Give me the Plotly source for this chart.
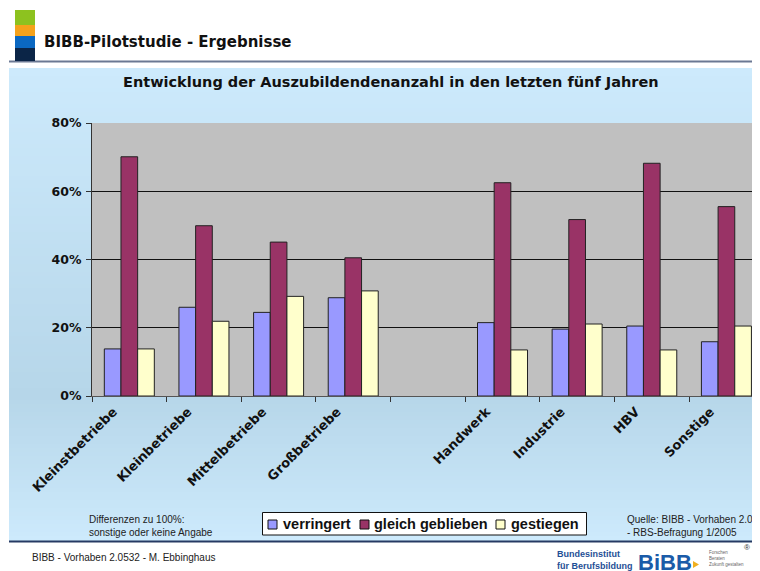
import plotly.graph_objects as go

categories = ["Kleinstbetriebe", "Kleinbetriebe", "Mittelbetriebe", "Großbetriebe", " ",
              "Handwerk", "Industrie", "HBV", "Sonstige"]
verringert = [13.8, 26.0, 24.5, 28.8, None, 21.5, 19.6, 20.5, 15.9]
gleich_geblieben = [70.1, 49.9, 45.1, 40.5, None, 62.5, 51.7, 68.2, 55.5]
gestiegen = [13.8, 21.9, 29.2, 30.8, None, 13.5, 21.1, 13.5, 20.5]
series_names = ["verringert", "gleich geblieben", "gestiegen"]
y_ticks = [0, 20, 40, 60, 80]
y_tick_labels = ["0%", "20%", "40%", "60%", "80%"]

colors = ["#9999FF", "#993366", "#FFFFCC"]
ARIAL = "Liberation Sans, Arial, sans-serif"
VERD = "DejaVu Sans, Verdana, sans-serif"

# page has an 8px body margin; figure pixel = reference pixel - 8
OFF = 8
W, H = 760 - OFF, 571 - OFF
L_REF, T_REF, B_REF, R_REF = 92, 123, 396, 760
PW = R_REF - L_REF
PH = B_REF - T_REF


def X(px):
    return (px - L_REF) / PW


def Y(py):
    return (B_REF - py) / PH


fig = go.Figure()
for name, vals, col in zip(series_names, [verringert, gleich_geblieben, gestiegen], colors):
    fig.add_trace(go.Bar(
        name=name, x=categories, y=vals, showlegend=False,
        marker=dict(color=col, line=dict(color="#222222", width=1)),
        hoverinfo="x+y+name",
    ))

shapes = []


def lerp(c1, c2, t):
    return tuple(int(round(a + (b - a) * t)) for a, b in zip(c1, c2))


top_c = (0xCD, 0xEA, 0xFC)
mid_c = (0xB6, 0xD6, 0xE9)
bot_c = (0xCD, 0xEA, 0xFC)
y_top, y_mid, y_bot = 68, 395, 541
step = 4
py = y_top
while py < y_bot:
    yc = py + step / 2
    if yc <= y_mid:
        c = lerp(top_c, mid_c, (yc - y_top) / (y_mid - y_top))
    else:
        c = lerp(mid_c, bot_c, (yc - y_mid) / (y_bot - y_mid))
    y2 = min(py + step + 0.5, y_bot)
    shapes.append(dict(type="rect", xref="paper", yref="paper", layer="below",
                       x0=X(9), x1=X(770), y0=Y(y2), y1=Y(py),
                       fillcolor="rgb(%d,%d,%d)" % c, line=dict(width=0)))
    py += step

# plot area background
shapes.append(dict(type="rect", xref="paper", yref="paper", layer="below",
                   x0=0, x1=1, y0=0, y1=1, fillcolor="#C0C0C0", line=dict(width=0)))

# header line and footer line
shapes.append(dict(type="line", xref="paper", yref="paper", x0=X(9), x1=X(770),
                   y0=Y(61.5), y1=Y(61.5), line=dict(color="#6B7893", width=2)))
shapes.append(dict(type="line", xref="paper", yref="paper", x0=X(9), x1=X(770),
                   y0=Y(541.5), y1=Y(541.5), line=dict(color="#263A63", width=2)))

# header logo squares
for (y0, y1, col) in [(10, 25, "#8DC21F"), (25, 36, "#F5A21B"), (36, 48, "#0B68C1"), (48, 61, "#0B2547")]:
    shapes.append(dict(type="rect", xref="paper", yref="paper", x0=X(15), x1=X(35),
                       y0=Y(y1), y1=Y(y0), fillcolor=col, line=dict(width=0)))

# small orange triangle in BIBB logo
shapes.append(dict(type="path", xref="paper", yref="paper",
                   path="M %f %f L %f %f L %f %f Z" % (X(693), Y(561), X(693), Y(568), X(699), Y(564.5)),
                   fillcolor="#F0B020", line=dict(width=0)))

# legend box and swatches (built from series names / colors)
shapes.append(dict(type="rect", xref="paper", yref="paper", x0=X(262.5), x1=X(586.5),
                   y0=Y(535), y1=Y(512.5), fillcolor="white", line=dict(color="#111111", width=1)))
legend_swatch_x = [268, 360, 496]
legend_text_x = [281, 372, 509]
for sx, col in zip(legend_swatch_x, colors):
    shapes.append(dict(type="rect", xref="paper", yref="paper", x0=X(sx), x1=X(sx + 9),
                       y0=Y(529), y1=Y(520), fillcolor=col, line=dict(color="#111111", width=1)))

annotations = [
    dict(text="<b>BIBB-Pilotstudie - Ergebnisse</b>", x=X(42), y=Y(42), xanchor="left", yanchor="middle",
         font=dict(size=15, color="#111111", family=VERD)),
    dict(text="<b>Entwicklung der Auszubildendenanzahl in den letzten fünf Jahren</b>", x=X(391), y=Y(82),
         xanchor="center", yanchor="middle", font=dict(size=14.5, color="#111111", family=VERD)),
    dict(text="Differenzen zu 100%:<br>sonstige oder keine Angabe", x=X(87), y=Y(526), xanchor="left",
         yanchor="middle", align="left", font=dict(size=10, color="#222222", family=ARIAL)),
    dict(text="Quelle: BIBB - Vorhaben 2.0.532<br>- RBS-Befragung 1/2005", x=X(625), y=Y(526), xanchor="left",
         yanchor="middle", align="left", font=dict(size=10, color="#222222", family=ARIAL)),
    dict(text="BIBB - Vorhaben 2.0532 - M. Ebbinghaus", x=X(30), y=Y(557), xanchor="left", yanchor="middle",
         font=dict(size=10, color="#222222", family=ARIAL)),
    dict(text="<b>Bundesinstitut<br>für Berufsbildung</b>", x=X(555), y=Y(560), xanchor="left",
         yanchor="middle", align="left", font=dict(size=9, color="#1F4F96", family=ARIAL)),
    dict(text="<b>BiBB</b>", x=X(665), y=Y(562), xanchor="center", yanchor="middle",
         font=dict(size=22, color="#1B5BA8", family=ARIAL)),
    dict(text="Forschen<br>Beraten<br>Zukunft gestalten", x=X(707), y=Y(558), xanchor="left", yanchor="middle",
         align="left", font=dict(size=4.5, color="#666666", family=ARIAL)),
    dict(text="®", x=X(747), y=Y(547), xanchor="center", yanchor="middle",
         font=dict(size=8, color="#333333", family=ARIAL)),
]
for tx, name in zip(legend_text_x, series_names):
    annotations.append(dict(text="<b>%s</b>" % name, x=X(tx), y=Y(524), xanchor="left", yanchor="middle",
                            font=dict(size=14.5, color="#111111", family=ARIAL)))
for a in annotations:
    a.update(xref="paper", yref="paper", showarrow=False)

fig.update_layout(
    width=W, height=H,
    margin=dict(l=L_REF - OFF, r=W - (R_REF - OFF), t=T_REF - OFF, b=H - (B_REF - OFF), pad=0),
    paper_bgcolor="white",
    plot_bgcolor="rgba(0,0,0,0)",
    barmode="group", bargap=0.33, bargroupgap=0,
    showlegend=False,
    shapes=shapes,
    annotations=annotations,
    font=dict(family=ARIAL, color="#111111"),
    xaxis=dict(type="category", range=[-0.5, 8.45], tickson="boundaries", ticks="outside", ticklen=5,
               tickcolor="#333333", showline=True, linecolor="#555555", linewidth=1,
               showgrid=False, tickangle=-45, fixedrange=True, ticklabelshift=-16, ticklabelstandoff=2,
               tickfont=dict(size=13, family=VERD, color="#111111", weight="bold")),
    yaxis=dict(range=[0, 80], tickvals=y_ticks, ticktext=y_tick_labels, ticks="outside", ticklen=5,
               tickcolor="#333333", showline=True, linecolor="#333333", linewidth=1,
               showgrid=True, gridcolor="#111111", gridwidth=1, zeroline=False, fixedrange=True,
               ticklabelstandoff=2,
               tickfont=dict(size=12.5, family=VERD, color="#111111", weight="bold")),
)

fig.write_html("out.html")
